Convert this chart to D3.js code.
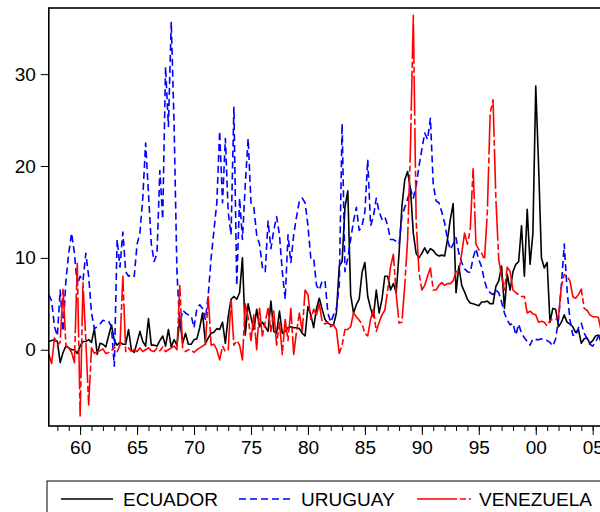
<!DOCTYPE html>
<html>
<head>
<meta charset="utf-8">
<script src="https://cdn.jsdelivr.net/npm/d3@7"></script>
<style>
  body { margin: 0; background: #ffffff; }
  svg text { font-family: "Liberation Sans", Arial, sans-serif; }
</style>
</head>
<body>
<svg id="chart" width="600" height="512"></svg>
<script>
// Quarterly inflation series, first observation 1957 Q2
const startYear = 1957.25;
const stepYear = 0.25;

const ecuador = [
  0.9, 1.0, 1.1,
  0.9, -1.4, -0.3, 0.4,   0.2, 0.0, 0.0, -0.4,
  0.4, 0.9, 0.9, 1.1,     0.8, 2.3, -0.5, 0.7,
  0.6, 0.3, 1.5, 2.7,     1.0, 0.5, 0.8, 0.6,
  0.6, 2.2, 0.0, -0.3,    0.8, 2.0, 0.9, 0.4,
  3.4, 0.5, 0.5, 0.4,     1.0, 1.5, 0.4, 2.2,
  0.3, 1.1, 0.5, 3.3,     0.7, 1.8, 0.6, 0.6,
  1.1, 1.2, 2.4, 4.0,     0.7, 1.3, 1.8, 1.9,
  2.3, 2.2, 3.0, 0.7,     3.6, 5.5, 5.8, 5.5,
  6.2, 10.0, 1.6, 5.0,    3.5, 2.2, 4.4, 2.5,
  3.0, 2.5, 2.0, 5.3,     2.0, 1.8, 4.2, 1.8,
  2.0, 2.4, 2.5, 2.4,     2.4, 2.3, 1.8, 1.5,
  4.7, 3.8, 2.4, 4.5,     5.6, 4.4, 3.3, 2.9,
  2.7, 2.7, 4.0, 9.1,     9.6, 15.5, 17.3, 6.0,
  4.0, 4.9, 5.5, 8.4,     9.5, 5.8, 4.5, 3.6,
  6.5, 4.0, 5.5, 8.0,     8.0, 6.5, 7.2, 6.2,
  10.5, 15.6, 18.5, 19.4, 17.5, 12.7, 10.5, 10.0,
  10.5, 11.1, 10.5, 11.0, 10.8, 10.4, 10.2, 10.3,
  10.2, 12.0, 14.2, 15.9, 6.2, 9.1, 7.0, 6.3,
  5.5, 5.1, 5.0, 4.9,     4.8, 5.2, 5.2, 5.3,
  5.0, 5.0, 6.9, 7.5,     9.1, 4.5, 8.2, 6.5,
  8.5, 9.3, 9.6, 13.5,    8.0, 15.3, 9.3, 12.7,
  28.7, 20.0, 10.0, 8.9,  9.5, 3.0, 4.5, 4.4,
  2.5, 3.0, 3.8, 3.0,     2.8, 2.5, 1.9, 2.2,
  0.7, 1.2, 1.3, 0.7,     1.0, 1.5, 1.6, 0.8
];

const uruguay = [
  6.0, 5.3, 2.5,
  1.5, 6.5, 2.0, 7.5,     10.5, 12.7, 10.5, 7.0,
  8.0, 7.5, 10.5, 8.0,    4.0, 2.3, 2.5, 2.8,
  3.2, 3.1, 3.1, 2.5,     -1.8, 12.0, 9.0, 12.8,
  8.5, 8.0, 8.2, 8.0,     11.5, 12.7, 16.5, 22.5,
  17.0, 11.5, 9.6, 10.5,  19.5, 14.2, 30.8, 24.3,
  35.7, 24.5, 8.5, 2.5,   4.3, 4.0, 3.8, 3.7,
  2.4, 4.5, 4.9, 4.5,     3.3, 6.0, 10.0, 13.0,
  16.0, 23.8, 16.0, 23.0, 15.0, 12.5, 26.4, 7.0,
  16.5, 12.0, 18.0, 23.0, 16.0, 15.5, 12.5, 11.5,
  9.0, 8.5, 14.0, 11.0,   13.0, 14.5, 12.5, 8.5,
  5.5, 12.5, 9.5, 12.5,   14.5, 16.2, 16.5, 16.0,
  13.5, 10.0, 10.0, 7.0,  6.5, 7.5, 7.5, 4.0,
  3.0, 3.8, 4.5, 7.0,     24.6, 8.5, 10.0, 12.0,
  14.0, 15.5, 13.0, 13.5, 15.0, 20.7, 13.5, 14.5,
  16.5, 15.0, 14.2, 14.5, 13.5, 12.0, 12.0, 11.8,
  11.5, 14.5, 15.5, 16.4, 17.5, 16.5, 17.8, 20.0,
  21.8, 23.6, 22.9, 25.2, 18.0, 16.2, 16.0, 15.0,
  13.8, 12.0, 10.9, 11.5, 12.2, 10.5, 9.5, 8.8,
  8.5, 8.4, 10.0, 11.0,   9.8, 9.0, 7.5, 6.5,
  6.2, 6.0, 6.5, 6.2,     5.2, 4.0, 3.2, 2.7,
  2.9, 1.6, 2.8, 1.8,     1.3, 0.9, 0.5, 1.2,
  1.1, 1.1, 1.2, 1.1,     1.0, 0.8, 0.4, 1.2,
  3.3, 7.0, 11.5, 6.5,    3.3, 1.6, 1.5, 2.4,
  2.9, 1.8, 1.2, 0.6,     0.4, 0.8, 1.5, 1.6
];

const venezuela = [
  -0.5, -1.5, 1.3,
  0.5, 0.8, 6.7, 0.5,     0.2, -0.3, -1.4, 9.4,
  -7.2, 7.3, 1.0, -6.0,   0.2, -0.4, -0.2, -0.1,
  0.1, -0.4, -0.3, -0.1,  0.3, -0.2, 0.5, 8.0,
  -0.2, 0.2, -0.2, 0.0,   -0.2, 0.2, -0.2, 0.0,
  0.2, -0.1, -0.2, 0.2,   -0.1, 0.3, -0.2, 0.0,
  0.2, 0.4, 0.0, 7.0,     0.2, -0.2, 0.0, 0.0,
  -0.3, 0.0, 0.2, 0.4,    0.6, 5.8, 0.5, 0.6,
  0.0, -1.1, 0.4, -0.2,   0.0, 5.5, 0.5, 1.0,
  0.5, -1.1, 5.0, 3.5,    1.0, 3.8, 0.0, 4.5,
  1.5, 3.0, 4.5, 2.0,     4.2, 0.5, 3.0, -0.5,
  3.3, 1.0, 4.5, -0.5,    2.0, 4.0, 2.0, 6.5,
  6.0, 3.3, 4.4, 3.8,     5.0, 3.0, 2.8, 3.0,
  2.5, 2.7, 2.2, -0.4,    0.5, 2.2, 2.2, 2.5,
  4.0, 3.6, 3.2, 2.8,     1.8, 1.5, 3.3, 4.4,
  2.0, 3.0, 3.8, 4.3,     6.5, 9.0, 10.4, 6.0,
  2.9, 3.0, 7.0, 12.0,    22.0, 36.4, 14.0, 8.4,
  6.5, 7.0, 8.0, 8.9,     6.5, 6.5, 7.0, 7.3,
  7.0, 7.2, 7.2, 7.5,     8.5, 8.5, 10.5, 12.7,
  11.5, 13.1, 19.7, 11.5, 10.9, 10.5, 9.8, 15.0,
  25.8, 27.2, 16.4, 9.8,  8.0, 6.5, 9.0, 8.5,
  6.5, 6.2, 6.0, 5.8,     5.8, 4.0, 4.2, 3.9,
  3.8, 3.0, 3.1, 3.0,     2.6, 3.2, 3.3, 3.3,
  3.6, 6.9, 8.2, 8.0,     7.5, 5.8, 5.6, 6.0,
  6.6, 4.5, 4.3, 3.8,     3.6, 3.6, 3.5, 2.0
];

const seriesNames = ["ECUADOR", "URUGUAY", "VENEZUELA"];
const seriesColors = ["#000000", "#0000ff", "#ff0000"];
const seriesDash = [null, "7,4", "40,3,6,3"];

const yTickValues = [0, 10, 20, 30];
const xMajorYears = [1960, 1965, 1970, 1975, 1980, 1985, 1990, 1995, 2000, 2005];
const xMajorLabels = ["60", "65", "70", "75", "80", "85", "90", "95", "00", "05"];
const xMinorYears = d3.range(1958, 2006);

const svg = d3.select("#chart");

const plot = { left: 48.8, right: 601.3, top: 8, bottom: 426 };

const x = d3.scaleLinear()
  .domain([startYear, startYear + stepYear * (ecuador.length)])
  .range([plot.left, plot.right + 2.8]);

const y = d3.scaleLinear()
  .domain([-8.3, 37.2])
  .range([plot.bottom, plot.top]);

const seriesData = [ecuador, uruguay, venezuela];

// plot lines
const line = d3.line()
  .x((d, i) => x(startYear + i * stepYear))
  .y(d => y(d));

const lines = svg.append("g");
seriesData.forEach((vals, k) => {
  lines.append("path")
    .datum(vals)
    .attr("d", line)
    .attr("fill", "none")
    .attr("stroke", seriesColors[k])
    .attr("stroke-width", 1.6)
    .attr("stroke-linejoin", "round")
    .attr("stroke-dasharray", seriesDash[k]);
});

// left axis
const yAxis = svg.append("g")
  .attr("transform", `translate(${plot.left},0)`)
  .call(d3.axisLeft(y).tickValues(yTickValues).tickSize(8).tickPadding(5));
yAxis.select(".domain").remove();
yAxis.selectAll("text").attr("font-size", 19).attr("fill", "#000");
yAxis.selectAll("line").attr("stroke", "#000").attr("stroke-width", 1);

// bottom axis: yearly minor ticks, 5-year labelled ticks
const xMinor = svg.append("g")
  .attr("transform", `translate(0,${plot.bottom})`)
  .call(d3.axisBottom(x).tickValues(xMinorYears).tickSize(5).tickFormat(""));
xMinor.select(".domain").remove();
xMinor.selectAll("line").attr("stroke", "#000").attr("stroke-width", 1);

const xMajor = svg.append("g")
  .attr("transform", `translate(0,${plot.bottom})`)
  .call(d3.axisBottom(x).tickValues(xMajorYears).tickSize(9).tickPadding(6)
    .tickFormat((d, i) => xMajorLabels[i]));
xMajor.select(".domain").remove();
xMajor.selectAll("text").attr("font-size", 19).attr("fill", "#000");
xMajor.selectAll("line").attr("stroke", "#000").attr("stroke-width", 1);

// frame
svg.append("rect")
  .attr("x", plot.left).attr("y", plot.top)
  .attr("width", plot.right + 4 - plot.left).attr("height", plot.bottom - plot.top)
  .attr("fill", "none").attr("stroke", "#000").attr("stroke-width", 1.6);

// legend
const legend = svg.append("g");
legend.append("rect")
  .attr("x", 47).attr("y", 481).attr("width", 566).attr("height", 40)
  .attr("fill", "none").attr("stroke", "#000").attr("stroke-width", 1);

const legendItems = [
  { x1: 61, x2: 113, tx: 123 },
  { x1: 239, x2: 291, tx: 301 },
  { x1: 417, x2: 471, tx: 479 }
];
legendItems.forEach((it, k) => {
  legend.append("line")
    .attr("x1", it.x1).attr("x2", it.x2).attr("y1", 499).attr("y2", 499)
    .attr("stroke", seriesColors[k]).attr("stroke-width", 1.6)
    .attr("stroke-dasharray", seriesDash[k]);
  legend.append("text")
    .attr("x", it.tx).attr("y", 506)
    .attr("font-size", 19).attr("fill", "#000")
    .text(seriesNames[k]);
});
</script>
</body>
</html>
